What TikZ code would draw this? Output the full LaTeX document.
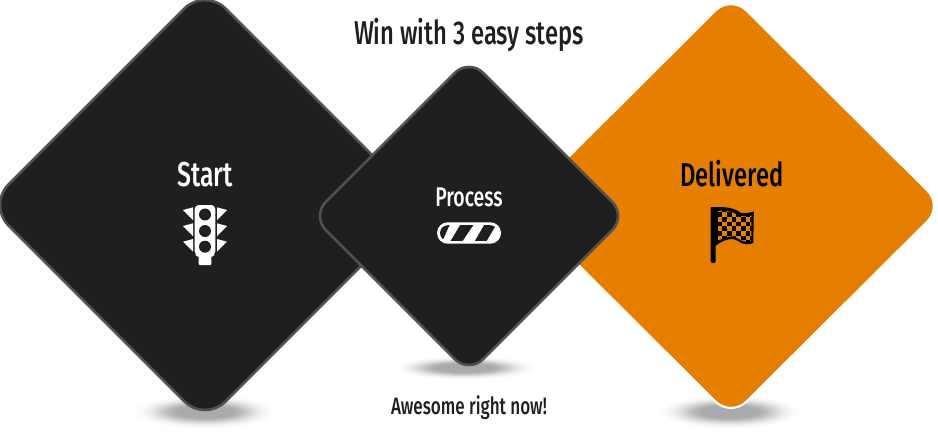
\documentclass[tikz,border=0pt]{standalone}
\usepackage{fontspec}
\setmainfont[FakeStretch=0.72]{Fira Sans Medium}
\tikzset{
  x=1pt,y=-1pt,
  big/.style={fill=dark,draw=edgegrey,line width=2.6pt},
  lbl/.style={inner sep=0pt,anchor=center},
}
\definecolor{dark}{HTML}{1F1F1F}
\definecolor{edgegrey}{HTML}{505050}
\definecolor{orangeb}{HTML}{E67E00}
\definecolor{shad}{HTML}{A6A6A6}
% soft shadow: centre x, centre y, x radius, y radius
\newcommand{\softshadow}[4]{%
  \foreach \t in {1.00,0.96,...,0.04}{%
    \pgfmathsetmacro{\pc}{max(0,100*(exp(-3.2*\t*\t)-0.04))}%
    \fill[shad!\pc!white] (#1,#2) ellipse [x radius={(#3-0.35*#3)*\t+0.35*#3},y radius={(#4-0.3*#4)*\t+0.3*#4}];%
  }%
}
\begin{document}
\begin{tikzpicture}
\useasboundingbox (0,0) rectangle (938,432);
\fill[white] (0,0) rectangle (938,432);
% shadows
\softshadow{205}{412}{72}{17}
\softshadow{465}{368}{72}{12}
\softshadow{730}{412}{72}{17}
% diamonds
\draw[fill=orangeb,draw=white,line width=2.2pt,rounded corners=22]
  (731,-5) -- (943,206) -- (731,417) -- (519,206) -- cycle;
\draw[big,rounded corners=29] (205,-12) -- (422,205) -- (205,422) -- (-12,205) -- cycle;
\draw[big,rounded corners=20] (469,58.7) -- (626.3,216) -- (469,373.3) -- (311.7,216) -- cycle;
% texts
\node[lbl,text=dark,font=\fontsize{33}{33}\selectfont] (title) at (469,35) {Win with 3 easy steps};
\node[lbl,text=white,font=\fontsize{34.5}{34}\selectfont] (start) at (205,175) {Start};
\node[lbl,text=white,font=\fontsize{27}{27}\selectfont] (process) at (469,197) {Process};
\node[lbl,text=black,font=\fontsize{33}{33}\selectfont] (delivered) at (732,174) {Delivered};
\node[lbl,text=dark,font=\fontsize{23.7}{24}\selectfont] (awesome) at (469,408) {Awesome right now!};
% traffic light
\fill[white,rounded corners=4] (194.7,205) -- (215.3,205) -- (215.3,255) -- (211.3,257) -- (198.7,257) -- (194.7,255) -- cycle;
\fill[white,rounded corners=1] (198.7,250) rectangle (211.3,265);
\foreach \d in {0,16,31.7}{
  \fill[white] (183,210+\d) -- (193,207.3+\d) -- (193,220+\d) -- cycle;
  \fill[white] (227,210+\d) -- (217,207.3+\d) -- (217,220+\d) -- cycle;
}
\foreach \c in {214.5,231,246.7} \fill[dark] (205,\c) circle [radius=6];
% progress bar
\fill[white,rounded corners=10.7] (437,222.3) rectangle (501,243.7);
\begin{scope}
  \clip[rounded corners=7.8] (440,225.2) rectangle (498,240.8);
  \fill[dark] (443,225.2) -- (449.5,225.2) -- (442.5,240.8) -- (436,240.8) -- cycle;
  \fill[dark] (460,225.2) -- (473.3,225.2) -- (462.7,240.8) -- (450.7,240.8) -- cycle;
  \fill[dark] (484,225.2) -- (496,225.2) -- (486.7,240.8) -- (475,240.8) -- cycle;
\end{scope}
% flag
\fill[black,rounded corners=2] (710.7,207) -- (715.7,207) -- (715.7,263) -- (710.7,263) -- cycle;
\fill[black] (710.7,207.5) .. controls (722,206.5) and (734,207) .. (740,212.5) .. controls (744,214) and (749,213) .. (753.8,211.5)
  -- (753.3,243) .. controls (748,245) and (743,245) .. (738,241) .. controls (733,237) and (725,239) .. (715,246) -- cycle;
\begin{scope}
  \clip (717.5,211) .. controls (724,210) and (732,211) .. (737.5,215) .. controls (742,217) and (747,216.5) .. (751.3,215.5)
    -- (751.3,240.5) .. controls (747,242) and (743,242) .. (738,238.5) .. controls (733,235) and (725,236) .. (717.5,241.5) -- cycle;
  \foreach \i in {0,...,7}{
    \foreach \j in {0,...,8}{
      \pgfmathtruncatemacro{\cellpar}{mod(\i+\j,2)}
      \ifnum\cellpar=0
        \fill[orangeb] ({717.5+\i*4.7},{207.5+\j*4.7}) rectangle ++(4.7,4.7);
      \fi
    }
  }
\end{scope}
\end{tikzpicture}
\end{document}
